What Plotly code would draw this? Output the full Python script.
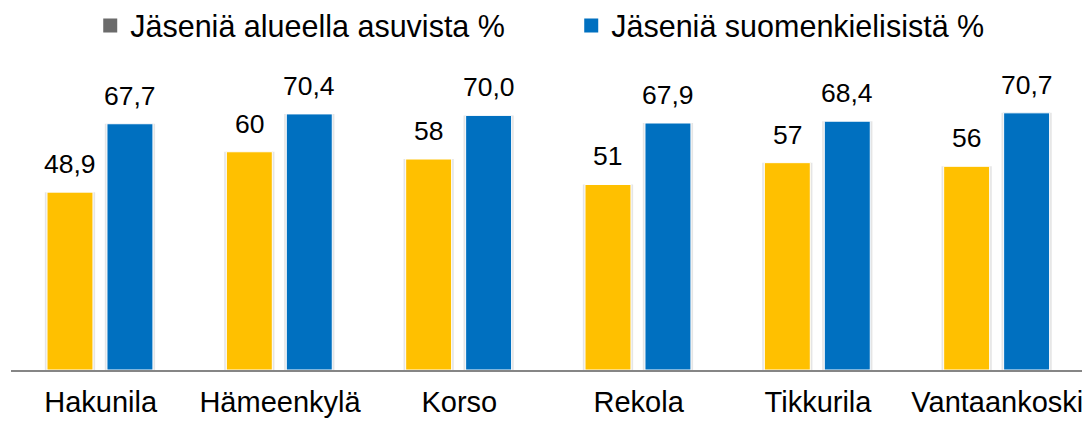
import plotly.graph_objects as go

categories = ["Hakunila", "Hämeenkylä", "Korso", "Rekola", "Tikkurila", "Vantaankoski"]
alueella = [48.9, 60, 58, 51, 57, 56]
suomenkieliset = [67.7, 70.4, 70.0, 67.9, 68.4, 70.7]
series_names = ["Jäseniä alueella asuvista %", "Jäseniä suomenkielisistä %"]

label_yellow = [f"{v:g}".replace(".", ",") for v in alueella]
label_blue = [f"{v:.1f}".replace(".", ",") for v in suomenkieliset]

YELLOW = "#FFC000"
BLUE = "#0070C0"
LEGEND_GRAY = "#6B6B6B"
FONT = "Liberation Sans, Arial, sans-serif"

W = 0.2564
OFF_Y = -0.2993
OFF_B = 0.0351
SH = 0.012  # shadow extension

fig = go.Figure()
x = list(range(len(categories)))

# soft shadows
for vals, off in [(alueella, OFF_Y), (suomenkieliset, OFF_B)]:
    fig.add_trace(go.Bar(x=x, y=vals, width=W + 2 * SH, offset=off - SH,
                         marker=dict(color="rgba(0,0,0,0.10)", line=dict(width=0)),
                         showlegend=False, hoverinfo="skip"))

fig.add_trace(go.Bar(x=x, y=alueella, width=W, offset=OFF_Y, name=series_names[0],
                     marker=dict(color=YELLOW, line=dict(color="white", width=1)),
                     showlegend=False))
fig.add_trace(go.Bar(x=x, y=suomenkieliset, width=W, offset=OFF_B, name=series_names[1],
                     marker=dict(color=BLUE, line=dict(color="white", width=1)),
                     showlegend=False))

# legend entries
for name, col in [(series_names[0], LEGEND_GRAY), (series_names[1], BLUE)]:
    fig.add_trace(go.Scatter(x=[None], y=[None], mode="markers", name=name,
                             marker=dict(symbol="square", size=14, color=col)))

ann = []
for i in range(len(categories)):
    ann.append(dict(x=i + OFF_Y + W / 2, y=alueella[i], text=label_yellow[i],
                    xref="x", yref="y", showarrow=False, yanchor="bottom", yshift=11,
                    font=dict(size=26.5, color="black", family=FONT)))
    ann.append(dict(x=i + OFF_B + W / 2, y=suomenkieliset[i], text=label_blue[i],
                    xref="x", yref="y", showarrow=False, yanchor="bottom", yshift=11,
                    font=dict(size=26.5, color="black", family=FONT)))

fig.update_layout(
    width=1082, height=413,
    margin=dict(l=3, r=3, t=71, b=49),
    paper_bgcolor="white", plot_bgcolor="white",
    barmode="overlay",
    font=dict(family=FONT, color="black"),
    annotations=ann,
    legend=dict(orientation="h", xref="container", yref="container",
                x=0.076, y=0.957, xanchor="left", yanchor="middle",
                font=dict(size=30.5, family=FONT, color="black"),
                entrywidth=436, entrywidthmode="pixels",
                bgcolor="rgba(0,0,0,0)"),
    xaxis=dict(range=[-0.5, 5.5], tickmode="array", tickvals=x, ticktext=categories,
               showline=True, linecolor="#868686", linewidth=1.5, ticks="",
               ticklabelstandoff=5,
               showgrid=False, zeroline=False,
               tickfont=dict(size=29, family=FONT, color="black")),
    yaxis=dict(range=[0, 80], visible=False, showgrid=False, zeroline=False),
)

fig.write_html("out.html")
